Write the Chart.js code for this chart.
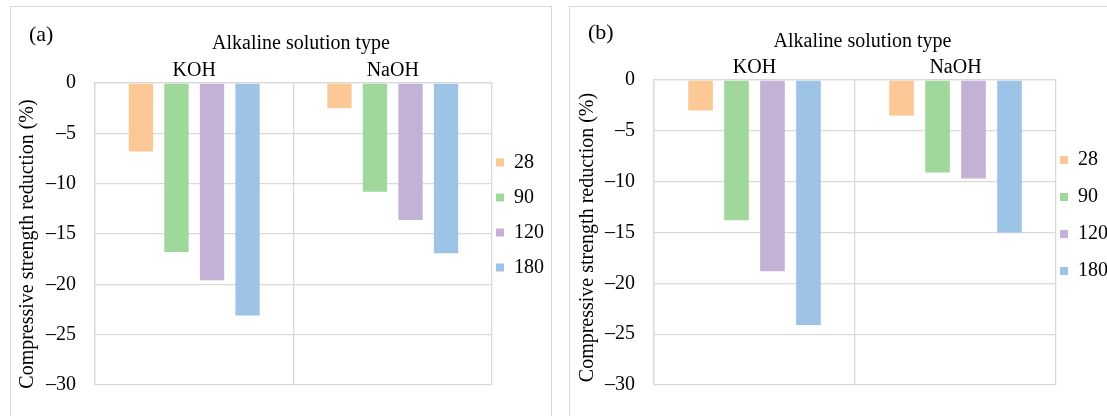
<!DOCTYPE html>
<html>
<head>
<meta charset="utf-8">
<title>Compressive strength reduction</title>
<script src="https://cdn.jsdelivr.net/npm/chart.js@4.4.1/dist/chart.umd.min.js"></script>
<style>
  html, body { margin: 0; padding: 0; background: #fff; overflow: hidden; }
  body { width: 1107px; height: 416px; position: relative; font-family: 'Liberation Serif', 'Times New Roman', serif; }
  .panel { position: absolute; top: 6px; height: 440px; border: 1px solid #d9d9d9; box-sizing: border-box; }
  #panelA { left: 10px; width: 542px; }
  #panelB { left: 569px; width: 600px; }
  canvas { position: absolute; top: 0; }
  #chartA { left: 0; }
  #chartB { left: 560px; }
  .tag { position: absolute; font-size: 22px; line-height: 22px; color: #000; }
</style>
</head>
<body>
<div class="panel" id="panelA"></div>
<div class="panel" id="panelB"></div>
<canvas id="chartA" width="560" height="416"></canvas>
<canvas id="chartB" width="547" height="416"></canvas>
<div class="tag" style="left:29px;top:23px">(a)</div>
<div class="tag" style="left:588px;top:21px">(b)</div>

<script>
// Alkaline solutions on the category axis
const solutions = ['KOH', 'NaOH'];
// Exposure ages (days) shown in the legend
const ages = ['28', '90', '120', '180'];
const ageColors = ['#FBC896', '#A0D89C', '#C3B1D6', '#9DC3E6'];

// Panel (a): strength reduction (%) per age, [KOH, NaOH]
const a28 = [-6.8, -2.5];
const a90 = [-16.8, -10.8];
const a120 = [-19.6, -13.6];
const a180 = [-23.1, -16.9];

// Panel (b): strength reduction (%) per age, [KOH, NaOH]
const b28 = [-3.0, -3.5];
const b90 = [-13.8, -9.1];
const b120 = [-18.8, -9.7];
const b180 = [-24.1, -15.0];

// Value axis range and step
const yMin = -30;
const yMax = 0;
const yStep = 5;

const FONT = "'Liberation Serif', 'Times New Roman', serif";
const GRID = '#d9d9d9';

// Moves the legend block sideways after Chart.js has laid it out
const legendShift = {
    id: 'legendShift',
    afterLayout(chart, args, opts) {
        if (chart.legend) chart.legend.left -= opts.dx || 0;
    }
};

function buildChart(canvasId, series, g) {
    const ctx = document.getElementById(canvasId).getContext('2d');

    const datasets = series.map((values, i) => ({
        label: ages[i],
        data: values,
        backgroundColor: ageColors[i],
        borderWidth: 0,
        categoryPercentage: 0.716,
        barPercentage: 0.685
    }));

    return new Chart(ctx, {
        type: 'bar',
        data: { labels: solutions, datasets: datasets },
        plugins: [legendShift],
        options: {
            responsive: false,
            animation: false,
            devicePixelRatio: 1,
            layout: { padding: { left: 0, right: 0, top: g.padTop, bottom: g.padBottom } },
            plugins: {
                legendShift: { dx: g.legendDx },
                tooltip: { enabled: false },
                legend: {
                    position: 'right',
                    maxWidth: g.legendWidth,
                    labels: {
                        boxWidth: 8,
                        boxHeight: 8,
                        padding: g.legendPad,
                        color: '#000',
                        font: { family: FONT, size: 20 }
                    }
                }
            },
            scales: {
                x: {
                    position: 'top',
                    afterFit: (s) => { s.height = g.xAxisHeight; },
                    grid: { color: GRID, lineWidth: 1.3, drawTicks: false },
                    border: { color: GRID, width: 1.3 },
                    ticks: { padding: 0, color: '#000', font: { family: FONT, size: 20 } },
                    title: {
                        display: true,
                        text: '   Alkaline solution type',
                        color: '#000',
                        font: { family: FONT, size: 20 },
                        padding: { top: g.xTitlePad, bottom: 0 }
                    }
                },
                y: {
                    min: yMin,
                    max: yMax,
                    afterFit: (s) => { s.width = g.yAxisWidth; },
                    grid: { color: GRID, lineWidth: 1.3, drawTicks: false },
                    border: { color: GRID, width: 1.3 },
                    ticks: {
                        stepSize: yStep,
                        padding: 19,
                        color: '#000',
                        font: { family: FONT, size: 20 },
                        // negative ticks are printed with a dash, e.g. "–25"
                        callback: (v) => (v < 0 ? '\u2013' + Math.abs(v) : String(v))
                    },
                    title: {
                        display: true,
                        text: 'Compressive strength reduction (%)' + g.yTitleTail,
                        color: '#000',
                        font: { family: FONT, size: 20 },
                        padding: { top: g.yTitlePad, bottom: 0 }
                    }
                }
            }
        }
    });
}

buildChart('chartA', [a28, a90, a120, a180], {
    padTop: 42, padBottom: 28, xAxisHeight: 41, yAxisWidth: 95,
    legendWidth: 68, legendPad: 15, legendDx: 11,
    xTitlePad: -10, yTitlePad: 16, yTitleTail: '    '
});

buildChart('chartB', [b28, b90, b120, b180], {
    padTop: 36, padBottom: 21, xAxisHeight: 44, yAxisWidth: 94,
    legendWidth: 51, legendPad: 17, legendDx: 13,
    xTitlePad: -6, yTitlePad: 16, yTitleTail: '  '
});
</script>
</body>
</html>
